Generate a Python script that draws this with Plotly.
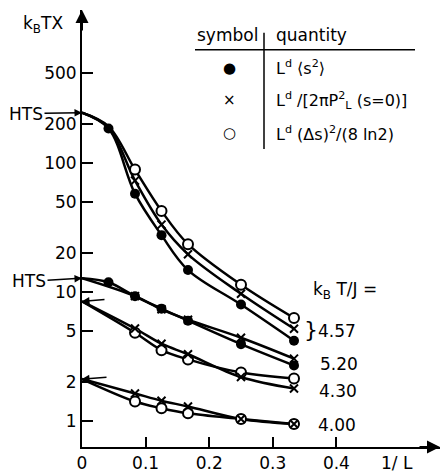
import numpy as np
import plotly.graph_objects as go

# ---------------- data ----------------
inv_L = [1/24, 1/12, 1/8, 1/6, 1/4, 1/3]

# k_B T/J = 4.57  (three estimators)
hts_457 = 245.0
filled_457 = [185, 57.8, 27.6, 14.8, 8.0, 4.2]
cross_457 = [188, 73, 33.3, 19.6, 9.7, 5.2]
open_457 = [192, 88.8, 42.5, 23.5, 11.4, 6.3]

# k_B T/J = 5.20
hts_520 = 12.8
filled_520 = [11.9, 9.27, 7.44, 6.0, 3.95, 2.7]
cross_520 = [None, 9.3, 7.35, 6.1, 4.43, 3.05]

# k_B T/J = 4.30
hts_430 = 8.48
open_430 = [None, 4.84, 3.55, 3.01, 2.38, 2.14]
cross_430 = [None, 5.22, 3.98, 3.3, 2.2, 1.79]

# k_B T/J = 4.00
hts_400 = 2.12
open_400 = [None, 1.42, 1.26, 1.15, 1.04, 0.95]
cross_400 = [None, 1.64, 1.44, 1.30, 1.04, 0.95]

y_ticks = [1, 2, 5, 10, 20, 50, 100, 200, 500]
x_ticks = [0, 0.1, 0.2, 0.3, 0.4]
x_tick_text = ["0", "0.1", "0.2", "0.3", "0.4"]

temps = ["4.57", "5.20", "4.30", "4.00"]
legend_rows = [("●", "L<sup>d</sup> ⟨s<sup>2</sup>⟩"),
               ("×", "L<sup>d</sup> /[2πP<sup>2</sup><sub>L</sub> (s=0)]"),
               ("○", "L<sup>d</sup> (Δs)<sup>2</sup>/(8 ln2)")]

# ---------------- figure ----------------
W, H = 442, 475
ML, MR, MT, MB = 82, 2, 10, 25
PW, PH = W - ML - MR, H - MT - MB
FONT = "DejaVu Sans"
BLACK = "black"


def pxx(xp):
    return (xp - ML) / PW


def pxy(yp):
    return (MT + PH - yp) / PH


fig = go.Figure()


def curve(xs, ys, start=None):
    xx, yy = [], []
    if start is not None:
        xx.append(0.0)
        yy.append(start)
    for a, b in zip(xs, ys):
        if b is not None:
            xx.append(a)
            yy.append(b)
    fig.add_trace(go.Scatter(x=xx, y=yy, mode="lines",
                             line=dict(color=BLACK, width=2.5, shape="spline", smoothing=1.0),
                             hoverinfo="skip", showlegend=False))


def marks(xs, ys, kind, skip_first=False):
    xx, yy = [], []
    for i, (a, b) in enumerate(zip(xs, ys)):
        if b is None or (skip_first and i == 0):
            continue
        xx.append(a)
        yy.append(b)
    if kind == "filled":
        m = dict(symbol="circle", size=10, color=BLACK, line=dict(width=0))
    elif kind == "open":
        m = dict(symbol="circle", size=10, color="white", line=dict(color=BLACK, width=2))
    else:
        m = dict(symbol="x-thin", size=8, color=BLACK, line=dict(color=BLACK, width=2))
    fig.add_trace(go.Scatter(x=xx, y=yy, mode="markers", marker=m,
                             hoverinfo="skip", showlegend=False))


# lines
curve(inv_L, filled_457, hts_457)
curve(inv_L, cross_457, hts_457)
curve(inv_L, open_457, hts_457)
curve(inv_L, filled_520, hts_520)
curve(inv_L, cross_520, hts_520)
curve(inv_L, open_430, hts_430)
curve(inv_L, cross_430, hts_430)
curve(inv_L, open_400, hts_400)
curve(inv_L, cross_400, hts_400)

# markers
marks(inv_L, cross_457, "cross", skip_first=True)
marks(inv_L, open_457, "open", skip_first=True)
marks(inv_L, filled_457, "filled")
marks(inv_L, cross_520, "cross")
marks(inv_L, filled_520, "filled")
marks(inv_L, open_430, "open")
marks(inv_L, cross_430, "cross")
marks(inv_L, open_400, "open")
marks(inv_L, cross_400, "cross")

xmax = PW / 636.0
ymin_log, ymax_log = -0.2, -0.2 + PH / 130.0


def label(xp, yp, text, size=17, xanchor="left"):
    return dict(xref="paper", yref="paper", x=pxx(xp), y=pxy(yp), xanchor=xanchor,
                yanchor="middle", text=text, showarrow=False,
                font=dict(size=size, family=FONT, color=BLACK))


ann = []
# axis arrows
ann.append(dict(xref="paper", yref="paper", x=0, y=1, ax=0, ay=22, text="",
                showarrow=True, arrowhead=2, arrowsize=1.3, arrowwidth=2, arrowcolor=BLACK))
ann.append(dict(xref="paper", yref="paper", x=1, y=0, ax=-22, ay=0, text="",
                showarrow=True, arrowhead=2, arrowsize=1.3, arrowwidth=2, arrowcolor=BLACK))
# axis titles
ann.append(label(43, 25, "k<sub>B</sub>TX", xanchor="center"))
ann.append(label(397, 466, "1/ L", xanchor="center"))
# HTS arrows
ann.append(dict(xref="x", yref="y", x=0, y=np.log10(hts_457), ax=-56, ay=1, text="HTS",
                showarrow=True, arrowhead=2, arrowsize=1, arrowwidth=1.5, arrowcolor=BLACK,
                font=dict(size=17, family=FONT, color=BLACK)))
ann.append(dict(xref="x", yref="y", x=0, y=np.log10(hts_520), ax=-53, ay=3, text="HTS",
                showarrow=True, arrowhead=2, arrowsize=1, arrowwidth=1.5, arrowcolor=BLACK,
                font=dict(size=17, family=FONT, color=BLACK)))
ann.append(dict(xref="x", yref="y", x=0, y=np.log10(hts_430), ax=24, ay=-2, text="",
                showarrow=True, arrowhead=2, arrowsize=1, arrowwidth=1.5, arrowcolor=BLACK))
ann.append(dict(xref="x", yref="y", x=0, y=np.log10(hts_400), ax=26, ay=-2, text="",
                showarrow=True, arrowhead=2, arrowsize=1, arrowwidth=1.5, arrowcolor=BLACK))
# temperature labels
ann.append(label(311, 292, "k<sub>B</sub> T/J ="))
ann.append(label(302, 332, "}", size=22))
for t, ypix, xl in zip(temps, [333, 366, 394, 428], [316, 318, 317, 316]):
    ann.append(label(xl, ypix, t))
# legend table
ann.append(label(227, 35, "symbol", xanchor="center"))
ann.append(label(274, 35, "quantity"))
for (sym, txt), ypix in zip(legend_rows, [68, 101, 134]):
    ann.append(label(229, ypix, sym, size=15, xanchor="center"))
    ann.append(label(274, ypix, txt, size=16))

shapes = [
    dict(type="line", xref="paper", yref="paper", x0=pxx(195), x1=pxx(415), y0=pxy(50), y1=pxy(50),
         line=dict(color=BLACK, width=1.5)),
    dict(type="line", xref="paper", yref="paper", x0=pxx(264), x1=pxx(264), y0=pxy(33), y1=pxy(150),
         line=dict(color=BLACK, width=1.5)),
]

fig.update_layout(
    width=W, height=H,
    margin=dict(l=ML, r=MR, t=MT, b=MB),
    paper_bgcolor="white", plot_bgcolor="white",
    showlegend=False,
    annotations=ann, shapes=shapes,
    font=dict(family=FONT, size=17, color=BLACK),
    xaxis=dict(range=[0, xmax], showgrid=False, zeroline=False, showline=True,
               linecolor=BLACK, linewidth=2, ticks="inside", ticklen=10, tickwidth=1.5,
               tickcolor=BLACK, tickvals=x_ticks, ticktext=x_tick_text,
               tickfont=dict(size=17, family=FONT, color=BLACK)),
    yaxis=dict(type="log", range=[ymin_log, ymax_log], showgrid=False, zeroline=False,
               showline=True, linecolor=BLACK, linewidth=2, ticks="inside", ticklen=11,
               tickwidth=1.5, tickcolor=BLACK, tickvals=y_ticks,
               ticktext=[str(v) for v in y_ticks],
               tickfont=dict(size=17, family=FONT, color=BLACK)),
)

fig.write_html("out.html")
